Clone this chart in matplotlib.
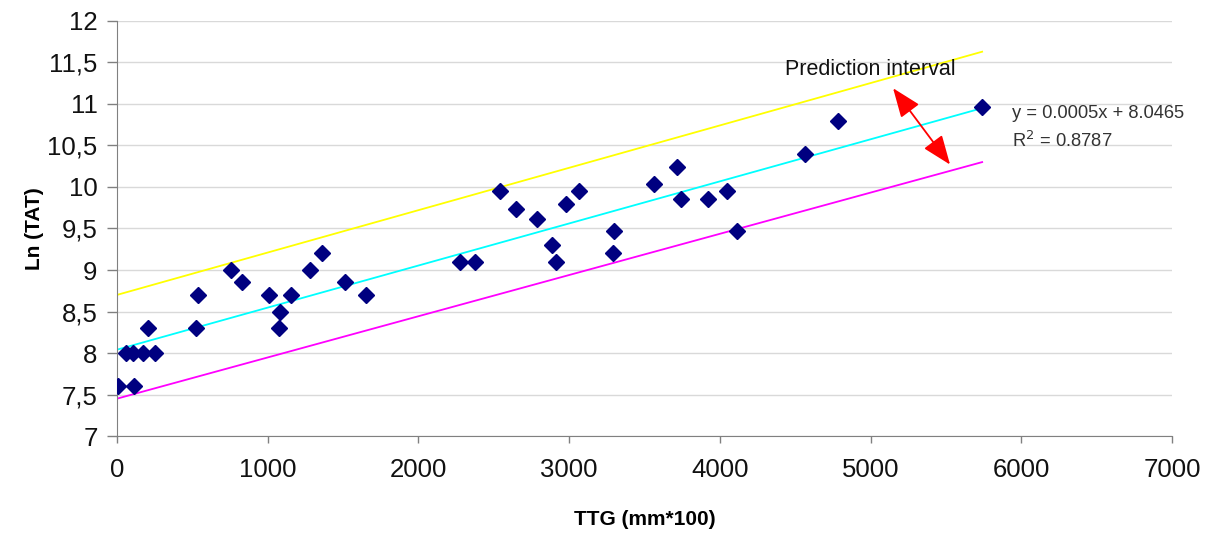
import matplotlib
matplotlib.use("Agg")
import matplotlib.pyplot as plt
import numpy as np
from matplotlib.ticker import FuncFormatter

plt.rcParams['font.family'] = ['Liberation Sans', 'DejaVu Sans']

ttg = [7, 60, 106, 113, 173, 206, 252, 524, 537, 756, 830, 1009, 1082, 1075,
       1155, 1281, 1360, 1513, 1652, 2276, 2376, 2541, 2648, 2787, 2887, 2913,
       2980, 3066, 3291, 3298, 3563, 3716, 3743, 3922, 4048, 4114, 4565, 4784, 5740]
ln_tat = [7.6, 8.0, 8.0, 7.6, 8.0, 8.3, 8.0, 8.3, 8.7, 9.0, 8.85, 8.7, 8.5, 8.3,
          8.7, 9.0, 9.2, 8.85, 8.7, 9.1, 9.1, 9.95, 9.73, 9.62, 9.3, 9.1,
          9.8, 9.95, 9.2, 9.47, 10.04, 10.24, 9.86, 9.86, 9.95, 9.47, 10.4, 10.8, 10.96]

line_x = [0, 5740]
fit_y = [8.04, 10.95]
upper_y = [8.70, 11.63]
lower_y = [7.45, 10.30]

x_ticks = [0, 1000, 2000, 3000, 4000, 5000, 6000, 7000]
y_ticks = [7, 7.5, 8, 8.5, 9, 9.5, 10, 10.5, 11, 11.5, 12]

fig = plt.figure(figsize=(12.2, 5.34), dpi=100)
ax = fig.add_axes([0.0959, 0.1835, 0.8648, 0.7772])

ax.plot(line_x, upper_y, color='#ffff00', lw=1.3, zorder=2)
ax.plot(line_x, fit_y, color='#00ffff', lw=1.3, zorder=2)
ax.plot(line_x, lower_y, color='#ff00ff', lw=1.3, zorder=2)
ax.plot(ttg, ln_tat, linestyle='none', marker='D', markersize=8.5,
        color='#000080', zorder=3)

ax.set_xlim(0, 7000)
ax.set_ylim(7, 12)
ax.set_xticks(x_ticks)
ax.set_yticks(y_ticks)
ax.yaxis.set_major_formatter(FuncFormatter(lambda v, p: (f"{v:g}").replace('.', ',')))
ax.tick_params(axis='both', labelsize=18.5, labelcolor='#111111', color='#808080',
               width=1, direction='out')
ax.tick_params(axis='x', length=5, pad=11)
ax.tick_params(axis='y', length=7, pad=7)
ax.grid(axis='y', color='#d9d9d9', lw=1)
ax.set_axisbelow(True)
for s in ['top', 'right']:
    ax.spines[s].set_visible(False)
ax.spines['left'].set_color('#808080')
ax.spines['bottom'].set_color('#808080')

ax.set_xlabel('TTG (mm*100)', fontsize=15, fontweight='bold', va='center')
ax.xaxis.set_label_coords(0.5, -0.2)
ax.set_ylabel('Ln (TAT)', fontsize=15, fontweight='bold', va='center')
ax.yaxis.set_label_coords(-0.078, 0.5)

ax.annotate('', xy=(5149, 11.19), xytext=(5527, 10.27),
            arrowprops=dict(arrowstyle='<|-|>,head_length=0.9,head_width=0.35',
                            color='#ff0000', lw=1.3,
                            mutation_scale=20, shrinkA=0, shrinkB=0))
ax.text(4433, 11.41, 'Prediction interval', fontsize=15.5, va='center', ha='left',
        color='#111111')
ax.text(5939, 10.88, 'y = 0.0005x + 8.0465', fontsize=13.2, va='center', ha='left',
        color='#333333')
ax.text(5939, 10.56, 'R$^2$ = 0.8787', fontsize=13.2, va='center', ha='left',
        color='#333333')

fig.savefig('out.png', dpi=100)
